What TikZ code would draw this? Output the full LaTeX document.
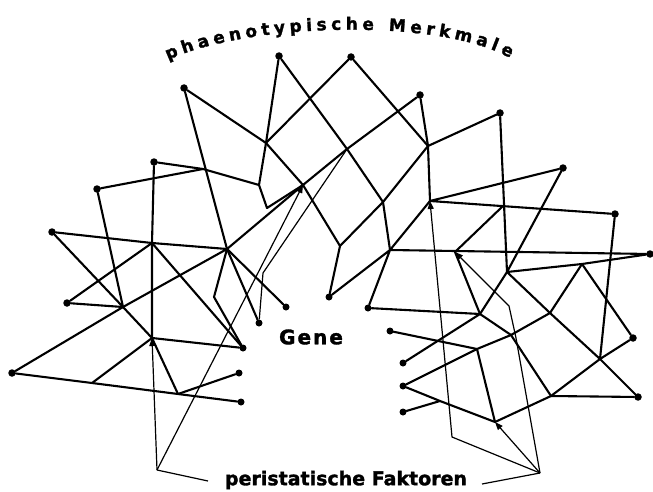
\documentclass[tikz,border=0pt]{standalone}
\usepackage{fontspec}
\newfontfamily\lblfont[BoldFeatures={FakeBold=1.6}]{DejaVu Sans}
\usetikzlibrary{arrows.meta,decorations.text}

\begin{document}
\begin{tikzpicture}[x=1pt, y=-1pt,
    merkmal/.style={circle, fill=black, inner sep=0pt, minimum size=7.5pt},
    gen/.style={merkmal, minimum size=7pt},
    link/.style={line width=2.1pt, line join=round, line cap=round},
    fine/.style={line width=1.2pt, line join=round},
    peri/.style={fine, -{Triangle[length=8pt,width=6pt]}},
    lbl/.style={font=\lblfont\bfseries\fontsize{19}{19}\selectfont, inner sep=0pt},
  ]
  \useasboundingbox (0,0) rectangle (653,492);

  % ---------------------------------------------------------- outer dots
  \node[merkmal] (m1)  at (12,373)  {};
  \node[merkmal] (m2)  at (67,303)  {};
  \node[merkmal] (m3)  at (52,232)  {};
  \node[merkmal] (m4)  at (97,189)  {};
  \node[merkmal] (m5)  at (154,162) {};
  \node[merkmal] (m6)  at (184,88)  {};
  \node[merkmal] (m7)  at (279,56)  {};
  \node[merkmal] (m8)  at (351,57)  {};
  \node[merkmal] (m9)  at (420,95)  {};
  \node[merkmal] (m10) at (500,113) {};
  \node[merkmal] (m11) at (563,168) {};
  \node[merkmal] (m12) at (615,214) {};
  \node[merkmal] (m13) at (650,254) {};
  \node[merkmal] (m14) at (633,338) {};
  \node[merkmal] (m15) at (638,397) {};

  % ----------------------------------------------------------- gene dots
  \node[gen] (g1)  at (286,307) {};
  \node[gen] (g2)  at (259,323) {};
  \node[gen] (g3)  at (243,348) {};
  \node[gen] (g4)  at (239,373) {};
  \node[gen] (g5)  at (241,402) {};
  \node[gen] (g6)  at (329,297) {};
  \node[gen] (g7)  at (368,308) {};
  \node[gen] (g8)  at (390,331) {};
  \node[gen] (g9)  at (403,363) {};
  \node[gen] (g10) at (403,386) {};
  \node[gen] (g11) at (403,412) {};

  % ----------------------------------------------------------- junctions
  \coordinate (j1)  at (266,143);
  \coordinate (j2)  at (259,185);
  \coordinate (j3)  at (267,208);
  \coordinate (j4)  at (203,169);
  \coordinate (j5)  at (303,185);
  \coordinate (j6)  at (227,249);
  \coordinate (j7)  at (152,243);
  \coordinate (j9)  at (123,307);
  \coordinate (j10) at (152,338);
  \coordinate (j11) at (92,383);
  \coordinate (j12) at (178,394);
  \coordinate (j13) at (214,297);
  \coordinate (j16) at (340,246);
  \coordinate (j17) at (347,149);
  \coordinate (j18) at (383,202);
  \coordinate (j19) at (390,250);
  \coordinate (j20) at (428,146);
  \coordinate (j21) at (430,201);
  \coordinate (j22) at (507,272);
  \coordinate (j23) at (600,359);
  \coordinate (j24) at (582,264);
  \coordinate (j25) at (477,349);
  \coordinate (j26) at (495,422);
  \coordinate (j27) at (480,314);
  \coordinate (j28) at (511,335);
  \coordinate (j29) at (551,396);
  \coordinate (j30) at (503,206);
  \coordinate (j31) at (455,252);
  \coordinate (j32) at (550,313);
  \coordinate (j33) at (440,401);
  \coordinate (t1)  at (263,273);

  % ------------------------------------------------------ left network
  \draw[link] (m6) -- (j1) -- (j5) -- (j16) -- (g6);
  \draw[link] (m7) -- (j1) -- (j2) -- (j3) -- (j5);
  \draw[link] (m8) -- (j1);
  \draw[link] (m9) -- (j17) -- (j5) -- (j6);
  \draw[link] (m7) -- (j17) -- (j18) -- (j19);
  \draw[link] (j16) -- (j18);
  \draw[link] (m5) -- (j4) -- (j2);
  \draw[link] (m4) -- (j4);
  \draw[link] (m6) -- (j6);
  \draw[link] (m5) -- (j7) -- (j10);
  \draw[link] (m3) -- (j7) -- (j6);
  \draw[link] (m3) -- (j9) -- (j10);
  \draw[link] (m4) -- (j9);
  \draw[link] (m2) -- (j9);
  \draw[link] (m2) -- (j7);
  \draw[link] (m1) -- (j9) -- (j6);
  \draw[link] (m1) -- (j11) -- (j12) -- (g5);
  \draw[link] (j11) -- (j10) -- (g3);
  \draw[link] (j10) -- (j12) -- (g4);
  \draw[link] (j7) -- (g3);
  \draw[link] (j6) -- (j13) -- (g3);
  \draw[link] (j6) -- (g2);
  \draw[link] (j6) -- (g1);
  \draw[fine] (j17) -- (t1) -- (g2);

  % ----------------------------------------------------- right network
  \draw[link] (m8) -- (j20);
  \draw[link] (m9) -- (j20) -- (j21);
  \draw[link] (m10) -- (j20) -- (j18);
  \draw[link] (m10) -- (j22);
  \draw[link] (m11) -- (j22);
  \draw[link] (m11) -- (j21) -- (m12);
  \draw[link] (j21) -- (j19) -- (m13);
  \draw[link] (j22) -- (j24) -- (m13);
  \draw[link] (m12) -- (j23);
  \draw[link] (j22) -- (j32) -- (j23) -- (m15);
  \draw[link] (j24) -- (m14);
  \draw[link] (j24) -- (j32) -- (j28);
  \draw[link] (j30) -- (j31) -- (j27);
  \draw[link] (g6) -- (j19) -- (g7) -- (j27);
  \draw[link] (g9) -- (j27) -- (j22);
  \draw[link] (j27) -- (j28);
  \draw[link] (g8) -- (j25) -- (j28);
  \draw[link] (j25) -- (j26);
  \draw[link] (g10) -- (j25);
  \draw[link] (g10) -- (j33) -- (j26);
  \draw[link] (g11) -- (j33);
  \draw[link] (j26) -- (j29) -- (j23) -- (m14);
  \draw[link] (j28) -- (j29) -- (m15);

  % ------------------------------------------------------------ labels
  \path[decorate, decoration={text along path, text align={fit to path},
        text={|\lblfont\bfseries\fontsize{17}{17}\selectfont|phaenotypische Merkmale}}]
    (168,60) .. controls (250,22) and (440,18) .. (510,58);
  \node[lbl, font=\lblfont\bfseries\fontsize{20}{20}\selectfont\addfontfeatures{LetterSpace=10}]
    (gene) at (311,337) {Gene};
  \node[lbl] (faktoren) at (346,480) {peristatische Faktoren};

  % ------------------------------------------------ peristatic factors
  \coordinate (pl)  at (157,470);
  \coordinate (plt) at (208,481);
  \coordinate (pr)  at (540,473);
  \coordinate (prt) at (482,484);
  \coordinate (p1)  at (452,437);
  \coordinate (p2)  at (516,338);
  \coordinate (p3)  at (509,306);

  \draw[fine] (plt) -- (pl);
  \draw[peri] (pl) -- (j10);
  \draw[peri] (pl) -- (j5);
  \draw[fine] (prt) -- (pr);
  \draw[peri] (pr) -- (p1) -- (j21);
  \draw[peri] (pr) -- (j26);
  \draw[peri] (pr) -- (p2) -- (p3) -- (j31);
\end{tikzpicture}
\end{document}
